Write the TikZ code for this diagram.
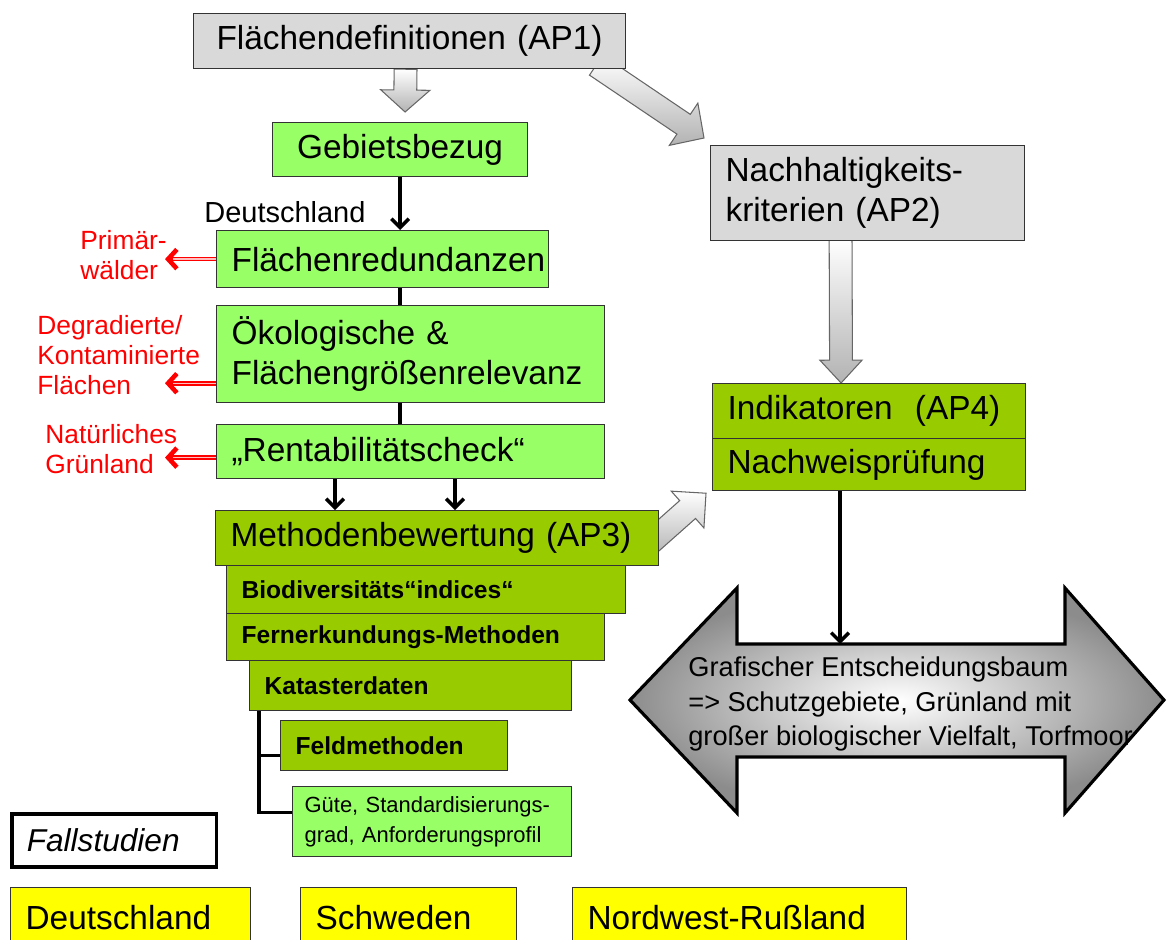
\documentclass[tikz,border=0pt]{standalone}
\usepackage{fontspec}
\setmainfont{Liberation Sans}
\usetikzlibrary{calc,arrows.meta,backgrounds}
\definecolor{lgray}{HTML}{D9D9D9}
\definecolor{lgreen}{HTML}{99FF66}
\definecolor{dgreen}{HTML}{99CC00}
\definecolor{ybox}{HTML}{FFFF00}
% block arrow: [style]{tail}{tip}{half shaft}{half head}{head length}
\newcommand{\blockarrow}[6][]{%
  \coordinate (ba-h) at ($(#3)!#6!(#2)$);
  \draw[#1] ($(#2)!#4!90:(#3)$) -- ($(ba-h)!#4!-90:(#2)$) -- ($(ba-h)!#5!-90:(#2)$)
    -- (#3) -- ($(ba-h)!#5!90:(#2)$) -- ($(ba-h)!#4!90:(#2)$) -- ($(#2)!#4!-90:(#3)$) -- cycle;}
\begin{document}
\begin{tikzpicture}[x=0.02cm,y=-0.02cm,
    box/.style={draw=black!80,line width=0.7pt,anchor=north west,inner ysep=0pt,inner xsep=0.3cm,align=left},
    mainf/.style={font=\fontsize{19}{23}\selectfont},
    subf/.style={font=\bfseries\fontsize{14}{17}\selectfont},
    garrow/.style={draw=black!60,line width=0.6pt,top color=white,bottom color=black!30},
    line/.style={line width=2pt},
    arr/.style={line width=2pt,-{Straight Barb[length=5pt,width=10pt]}},
    redarr/.style={red,line width=2.6pt,-{Straight Barb[length=5pt,width=11pt]}},
    pinkline/.style={red!25,line width=0.8pt},
    redlbl/.style={text=red,anchor=west,align=left,inner sep=0pt,font=\fontsize{15}{17}\selectfont}]
    \useasboundingbox (0,0) rectangle (1167,940);
    \clip (0,0) rectangle (1167,940);
    % the work packages
    \node[box,fill=lgray,mainf,align=center,text width=8.04cm,minimum height=1.1cm] (ap1) at (193,13) {Flächendefinitionen (AP1)};
    \node[box,fill=lgreen,mainf,align=center,text width=4.5cm,minimum height=1.08cm] (gebiet) at (272,122) {Gebietsbezug};
    \node[anchor=west,inner sep=0pt,font=\fontsize{16.5}{19}\selectfont] (dlab) at (204,212) {Deutschland};
    \node[box,fill=lgreen,mainf,text width=6.04cm,minimum height=1.14cm] (redund) at (216,230) {Flächenredundanzen};
    \node[box,fill=lgreen,mainf,text width=7.16cm,minimum height=1.94cm] (oeko) at (216,305) {Ökologische \&\\Flächengrößenrelevanz};
    \node[box,fill=lgreen,mainf,text width=7.16cm,minimum height=1.08cm] (rent) at (216,424) {„Rentabilitätscheck“};
    \node[box,fill=dgreen,mainf,text width=8.26cm,minimum height=1.1cm] (ap3) at (215,510) {Methodenbewertung (AP3)};
    \node[box,fill=dgreen,subf,text width=7.38cm,minimum height=0.96cm] (bio) at (226,565) {Biodiversitäts“indices“};
    \node[box,fill=dgreen,subf,text width=6.96cm,minimum height=0.94cm] (fern) at (226,613) {Fernerkundungs-Methoden};
    \node[box,fill=dgreen,subf,text width=5.84cm,minimum height=1cm] (kat) at (249,660) {Katasterdaten};
    \node[box,fill=dgreen,subf,text width=3.94cm,minimum height=1cm] (feld) at (280,720) {Feldmethoden};
    \node[box,fill=lgreen,font=\fontsize{12.5}{17}\selectfont,inner xsep=0.24cm,text width=5.1cm,minimum height=1.4cm] (guete) at (292,786) {Güte, Standardisierungs-\\grad, Anforderungsprofil};
    \node[box,fill=lgray,mainf,text width=5.68cm,minimum height=1.9cm] (nach) at (710,145) {Nachhaltigkeits-\\kriterien (AP2)};
    \node[box,fill=dgreen,mainf,text width=5.66cm,minimum height=1.1cm] (ind) at (712,383) {Indikatoren\ \ (AP4)};
    \node[box,fill=dgreen,mainf,text width=5.66cm,minimum height=1.04cm] (nachw) at (712,438) {Nachweisprüfung};
    % case studies
    \node[box,fill=white,draw=black,line width=2pt,font=\itshape\fontsize{18}{21}\selectfont,text width=3.5cm,minimum height=1.06cm] (fall) at (10,812) {Fallstudien};
    \node[box,fill=ybox,mainf,text width=4.2cm,minimum height=1.2cm] (de) at (10,887) {Deutschland};
    \node[box,fill=ybox,mainf,text width=3.72cm,minimum height=1.2cm] (sw) at (300,887) {Schweden};
    \node[box,fill=ybox,mainf,text width=6.08cm,minimum height=1.2cm] (ru) at (572,887) {Nordwest-Rußland};
    % black connectors
    \draw[arr] (gebiet.south) -- (gebiet.south |- redund.north);
    \draw[line] (redund.south -| gebiet.south) -- (gebiet.south |- oeko.north);
    \draw[line] (oeko.south -| gebiet.south) -- (gebiet.south |- rent.north);
    \coordinate (r1) at ($(rent.south west)+(119,0)$);
    \coordinate (r2) at ($(rent.south west)+(239,0)$);
    \draw[arr] (r1) -- (r1 |- ap3.north);
    \draw[arr] (r2) -- (r2 |- ap3.north);
    \coordinate (kb) at ($(kat.south west)+(10,0)$);
    \draw[line] (kb) |- ($(guete.west)+(0,-9)$);
    \draw[line] (kb) |- ($(feld.west)+(0,10)$);
    % red exclusions
    \coordinate (pw) at ($(redund.west)+(-51,0)$);
    \draw[redarr] (redund.west) -- (pw);
    \draw[pinkline] (redund.west) -- ($(pw)+(8,0)$);
    \node[redlbl] (prim) at (80,255) {Primär-\\wälder};
    \coordinate (dg0) at ($(oeko.south west)+(0,-20)$);
    \coordinate (dg) at ($(dg0)+(-51,0)$);
    \draw[redarr] (dg0) -- (dg);
    \draw[pinkline] (dg0) -- ($(dg)+(8,0)$);
    \node[redlbl] (degr) at (37,355) {Degradierte/\\Kontaminierte\\Flächen};
    \coordinate (gl0) at ($(rent.west)+(0,6)$);
    \coordinate (gl) at ($(gl0)+(-51,0)$);
    \draw[redarr] (gl0) -- (gl);
    \draw[pinkline] (gl0) -- ($(gl)+(8,0)$);
    \node[redlbl] (nat) at (45,449) {Natürliches\\Grünland};
    % the decision tree arrow
    \draw[line width=1.8pt,inner color=white,outer color=black!45] (630,700) -- (737,588) -- (737,644)
        -- (1065,644) -- (1065,588) -- (1164,700) -- (1065,813) -- (1065,757) -- (737,757) -- (737,813) -- cycle;
    \coordinate (dtop) at (840,644);
    \draw[arr] (nachw.south -| dtop) -- (dtop);
    \node[anchor=west,align=left,inner sep=0pt,font=\fontsize{15.5}{19.5}\selectfont] (tree) at (688,704)
        {Grafischer Entscheidungsbaum\\=> Schutzgebiete, Grünland mit\\großer biologischer Vielfalt, Torfmoor};
    % gray block arrows behind the boxes
    \begin{pgfonlayer}{background}
        \coordinate (a1t) at ($(ap1.south)+(-4,0)$);
        \coordinate (a1h) at ($(gebiet.north)+(5,-10)$);
        \blockarrow[garrow]{a1t}{a1h}{6.5pt}{14pt}{12.5pt}
        \coordinate (a2t) at ($(ap1.south east)+(-30,-4)$);
        \coordinate (a2h) at ($(nach.north west)+(-6,-7)$);
        \blockarrow[garrow]{a2t}{a2h}{6.8pt}{14.5pt}{14pt}
        \coordinate (a3t) at ($(nach.south)+(-27,-3)$);
        \coordinate (a3h) at ($(ind.north)+(-28,0)$);
        \blockarrow[garrow]{a3t}{a3h}{6.5pt}{12pt}{13pt}
        \coordinate (a4t) at ($(ap3.east)+(-15,10)$);
        \coordinate (a4h) at ($(nachw.south west)+(-6,2)$);
        \blockarrow[garrow]{a4t}{a4h}{6.8pt}{14pt}{14pt}
    \end{pgfonlayer}
\end{tikzpicture}
\end{document}
